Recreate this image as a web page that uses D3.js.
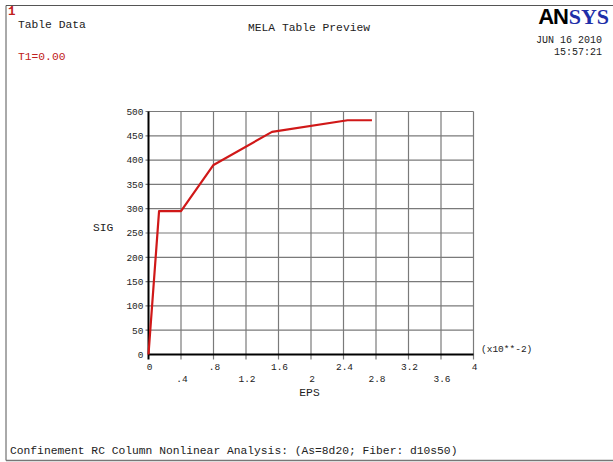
<!DOCTYPE html>
<html>
<head>
<meta charset="utf-8">
<script src="https://cdn.jsdelivr.net/npm/d3@7"></script>
<style>
  html, body { margin: 0; padding: 0; background: #fff; }
  svg { display: block; }
  text { font-family: "Liberation Mono", "DejaVu Sans Mono", monospace; }
</style>
</head>
<body>
<script>
// Stress-strain table (EPS in units of 1e-2, SIG)
const eps = [0, 0.13, 0.4, 0.8, 1.52, 2.45, 2.75];
const sig = [0, 295, 295, 390, 458, 482, 482];

const xTicks = [0, 0.4, 0.8, 1.2, 1.6, 2, 2.4, 2.8, 3.2, 3.6, 4];
const xTickLabels = ["0", ".4", ".8", "1.2", "1.6", "2", "2.4", "2.8", "3.2", "3.6", "4"];
const yTicks = [0, 50, 100, 150, 200, 250, 300, 350, 400, 450, 500];

const W = 613, H = 462;
const svg = d3.select("body").append("svg").attr("width", W).attr("height", H);

// outer frame
svg.append("path")
  .attr("d", `M6,${H - 1.5} L6,5.5 L${W},5.5`)
  .attr("fill", "none").attr("stroke", "#555").attr("stroke-width", 1);
svg.append("line").attr("x1", 6).attr("x2", W).attr("y1", H - 1.5).attr("y2", H - 1.5)
  .attr("stroke", "#777").attr("stroke-width", 1.5);

const x = d3.scaleLinear().domain([0, 4]).range([148.5, 473.5]);
const y = d3.scaleLinear().domain([0, 500]).range([354.5, 111.5]);

// grid
const g = svg.append("g");
g.selectAll(".vg").data(xTicks.slice(1)).join("line")
  .attr("x1", d => x(d)).attr("x2", d => x(d))
  .attr("y1", y(500)).attr("y2", y(0) + 5)
  .attr("stroke", "#7a7a7a").attr("stroke-width", 1.2);
g.selectAll(".hg").data(yTicks.slice(1)).join("line")
  .attr("x1", x(0) - 3).attr("x2", x(4))
  .attr("y1", d => y(d)).attr("y2", d => y(d))
  .attr("stroke", "#7a7a7a").attr("stroke-width", 1.2);

// axes
g.append("line").attr("x1", x(0)).attr("x2", x(0)).attr("y1", y(500)).attr("y2", y(0) + 5)
  .attr("stroke", "#000").attr("stroke-width", 2);
g.append("line").attr("x1", x(0)).attr("x2", x(4)).attr("y1", y(0)).attr("y2", y(0))
  .attr("stroke", "#000").attr("stroke-width", 2);

// y tick labels
g.selectAll(".yl").data(yTicks).join("text")
  .attr("x", x(0) - 5).attr("y", d => y(d)).attr("dy", "0.35em")
  .attr("text-anchor", "end").attr("font-size", 9.5).attr("fill", "#222")
  .text(d => d);

// x tick labels, alternating rows
g.selectAll(".xl").data(xTicks).join("text")
  .attr("x", d => x(d) + 1).attr("y", (d, i) => i % 2 === 0 ? 367 : 379).attr("dy", "0.35em")
  .attr("text-anchor", "middle").attr("font-size", 9.5).attr("fill", "#222")
  .text((d, i) => xTickLabels[i]);

g.append("text").attr("x", 481).attr("y", 349).attr("dy", "0.35em")
  .attr("font-size", 9.5).attr("fill", "#222").text("(x10**-2)");

// axis titles
svg.append("text").attr("x", 93).attr("y", 227).attr("dy", "0.35em")
  .attr("font-size", 11.3).attr("fill", "#222").text("SIG");
svg.append("text").attr("x", 309.5).attr("y", 392).attr("dy", "0.35em")
  .attr("text-anchor", "middle").attr("font-size", 11.3).attr("fill", "#222").text("EPS");

// curve
const line = d3.line().x(d => x(d[0])).y(d => y(d[1]));
svg.append("path").datum(eps.map((e, i) => [e, sig[i]]))
  .attr("d", line).attr("fill", "none")
  .attr("stroke", "#d01818").attr("stroke-width", 2.2).attr("stroke-linejoin", "round");

// header texts
svg.append("text").attr("x", 8).attr("y", 11).attr("dy", "0.35em")
  .attr("font-size", 12.5).attr("font-weight", 700).attr("fill", "#c02020").text("1");
svg.append("text").attr("x", 18).attr("y", 24).attr("dy", "0.35em")
  .attr("font-size", 11.3).attr("fill", "#222").text("Table Data");
svg.append("text").attr("x", 18).attr("y", 56).attr("dy", "0.35em")
  .attr("font-size", 11.3).attr("fill", "#c02020").text("T1=0.00");
svg.append("text").attr("x", 309).attr("y", 27).attr("dy", "0.35em")
  .attr("text-anchor", "middle").attr("font-size", 11.3).attr("fill", "#222").text("MELA Table Preview");

const logo = svg.append("text").attr("x", 609).attr("y", 24).attr("font-size", 22)
  .attr("text-anchor", "end");
logo.append("tspan").attr("font-family", "Liberation Sans, Arial, sans-serif")
  .attr("font-weight", 900).attr("fill", "#000").attr("letter-spacing", -1.2).text("AN");
logo.append("tspan").attr("font-family", "Liberation Serif, Times New Roman, serif")
  .attr("font-weight", 700).attr("fill", "#1f2fa8").attr("dx", 1).text("SYS");

svg.append("text").attr("x", 602).attr("y", 39).attr("dy", "0.35em")
  .attr("text-anchor", "end").attr("font-size", 10).attr("fill", "#222").text("JUN 16 2010");
svg.append("text").attr("x", 602).attr("y", 51).attr("dy", "0.35em")
  .attr("text-anchor", "end").attr("font-size", 10).attr("fill", "#222").text("15:57:21");

// footer
svg.append("text").attr("x", 10).attr("y", 450).attr("dy", "0.35em")
  .attr("font-size", 11.3).attr("fill", "#222")
  .text("Confinement RC Column Nonlinear Analysis: (As=8d20; Fiber: d10s50)");
</script>
</body>
</html>
